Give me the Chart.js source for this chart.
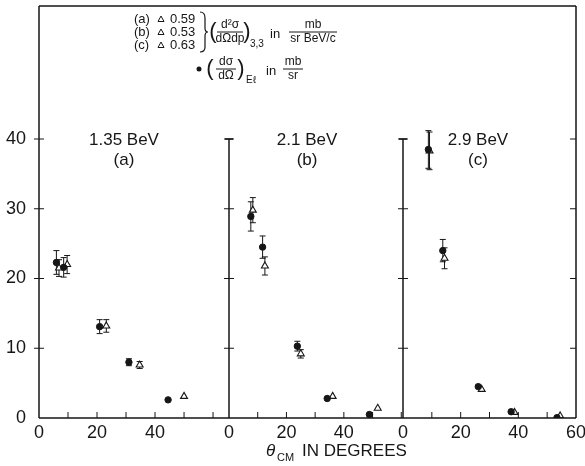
<!DOCTYPE html>
<html lang="en">
<head>
<meta charset="utf-8">
<script src="https://cdn.jsdelivr.net/npm/chart.js@4.4.0/dist/chart.umd.min.js"></script>
<style>
  body { margin: 0; background: #fff; }
  #wrap { position: relative; width: 585px; height: 466px; }
  #wrap canvas { position: absolute; left: 0; top: 0; }
</style>
</head>
<body>
<div id="wrap">
  <canvas id="pa" width="585" height="466"></canvas>
  <canvas id="pb" width="585" height="466"></canvas>
  <canvas id="pc" width="585" height="466"></canvas>
</div>
<script>
// cross sections vs. c.m. angle, three beam energies
// El = elastic dsigma/dOmega (dots), 33 = (3,3) resonance d2sigma/dOmega dp (triangles)
var angA_El = [6.0, 8.5, 20.9, 31.0, 44.5];
var valA_El = [22.3, 21.6, 13.1, 8.0, 2.6];
var errA_El = [1.7, 1.4, 1.0, 0.5, 0.3];
var angA_33 = [6.9, 9.7, 23.2, 34.7, 50.0];
var valA_33 = [21.5, 22.0, 13.2, 7.6, 3.1];
var errA_33 = [1.2, 1.3, 0.9, 0.5, 0.3];

var angB_El = [7.6, 11.7, 23.8, 34.2, 48.9];
var valB_El = [28.9, 24.5, 10.3, 2.8, 0.5];
var errB_El = [2.1, 1.6, 0.7, 0.3, 0.1];
var angB_33 = [8.3, 12.5, 25.0, 36.1, 51.8];
var valB_33 = [29.8, 21.8, 9.2, 3.1, 1.4];
var errB_33 = [1.8, 1.3, 0.6, 0.2, 0.1];

var angC_El = [8.8, 13.8, 26.1, 37.5, 53.4];
var valC_El = [38.5, 24.0, 4.5, 0.9, 0.05];
var errC_El = [2.7, 1.6, 0.2, 0.1, 0];
var angC_33 = [9.2, 14.4, 27.3, 38.7, 54.5];
var valC_33 = [38.3, 22.9, 4.1, 0.8, 0.3];
var errC_33 = [2.7, 1.5, 0.2, 0.1, 0];

var energies = ['1.35 BeV', '2.1 BeV', '2.9 BeV'];
var tags = ['(a)', '(b)', '(c)'];
var ratios = ['0.59', '0.53', '0.63'];
var yTicks = [0, 10, 20, 30, 40];
var xTicksA = [0, 20, 40];
var xTicksB = [0, 20, 40];
var xTicksC = [0, 20, 40, 60];

var INK = '#161616';
var FONT = '"Liberation Sans", "DejaVu Sans", sans-serif';

function makeSets(angEl, valEl, errEl, ang33, val33, err33) {
  return [{
    label: 'El',
    data: angEl.map(function (a, i) { return { x: a, y: valEl[i] }; }),
    err: errEl,
    pointStyle: 'circle', pointRadius: 3.2,
    backgroundColor: INK, borderColor: INK, borderWidth: 1
  }, {
    label: '3,3',
    data: ang33.map(function (a, i) { return { x: a, y: val33[i] }; }),
    err: err33,
    pointStyle: 'triangle', pointRadius: 4,
    backgroundColor: '#fff', borderColor: INK, borderWidth: 1.1
  }];
}

// error bars, frame lines, tick marks and the panel captions
var panelDeco = {
  id: 'panelDeco',
  beforeDatasetsDraw: function (chart) {
    var ctx = chart.ctx, xs = chart.scales.x, ys = chart.scales.y;
    ctx.save();
    ctx.strokeStyle = INK;
    ctx.lineWidth = 1;
    chart.data.datasets.forEach(function (ds) {
      ds.data.forEach(function (p, i) {
        var e = ds.err[i];
        if (!e) return;
        var px = xs.getPixelForValue(p.x);
        var top = ys.getPixelForValue(p.y + e), bot = ys.getPixelForValue(p.y - e);
        ctx.beginPath();
        ctx.moveTo(px, top); ctx.lineTo(px, bot);
        if (bot - top > 5) {
          ctx.moveTo(px - 3, top); ctx.lineTo(px + 3, top);
          ctx.moveTo(px - 3, bot); ctx.lineTo(px + 3, bot);
        }
        ctx.stroke();
      });
    });
    ctx.restore();
  },
  afterDraw: function (chart, args, o) {
    var ctx = chart.ctx, xs = chart.scales.x, ys = chart.scales.y, a = chart.chartArea;
    ctx.save();
    ctx.strokeStyle = INK;
    ctx.lineWidth = 1.5;
    ctx.beginPath();
    // top and bottom lines
    ctx.moveTo(a.left, a.top); ctx.lineTo(a.right, a.top);
    ctx.moveTo(a.left, a.bottom); ctx.lineTo(a.right, a.bottom);
    if (o.left === 'axis') {
      ctx.moveTo(a.left, a.top); ctx.lineTo(a.left, a.bottom);
    } else {
      var y40 = ys.getPixelForValue(40);
      ctx.moveTo(a.left, a.bottom); ctx.lineTo(a.left, y40);
      ctx.moveTo(a.left - 4, y40); ctx.lineTo(a.left + 4, y40);
    }
    if (o.right) {
      ctx.moveTo(a.right, a.top); ctx.lineTo(a.right, a.bottom);
    }
    ctx.stroke();

    ctx.lineWidth = 1;
    ctx.beginPath();
    yTicks.forEach(function (v) {
      if (v === 0) return;
      var py = ys.getPixelForValue(v);
      ctx.moveTo(a.left - 5, py); ctx.lineTo(a.left + 5, py);
      if (o.right) { ctx.moveTo(a.right - 6, py); ctx.lineTo(a.right, py); }
    });
    xs.ticks.forEach(function (t) {
      if (t.value <= 0 || t.value >= xs.max) return;
      var px = xs.getPixelForValue(t.value);
      ctx.moveTo(px, a.bottom); ctx.lineTo(px, a.bottom - 6);
    });
    ctx.stroke();

    // energy and panel tag
    ctx.fillStyle = INK;
    ctx.textAlign = 'center';
    ctx.textBaseline = 'middle';
    ctx.font = '17px ' + FONT;
    var cx = xs.getPixelForValue(o.captionAt);
    var cy = ys.getPixelForValue(40);
    ctx.fillText(o.energy, cx, cy + 1);
    ctx.fillText(o.tag, cx, cy + 21);

    if (o.axisTitle) drawAxisTitle(ctx);
    if (o.legend) drawLegend(ctx);
    ctx.restore();
  }
};

function drawAxisTitle(ctx) {
  var base = 456;
  ctx.textAlign = 'left';
  ctx.textBaseline = 'alphabetic';
  ctx.font = 'italic 17px ' + FONT;
  ctx.fillText('\u03B8', 266, base);
  ctx.font = '11px ' + FONT;
  ctx.fillText('CM', 277, base + 5);
  ctx.font = '17px ' + FONT;
  ctx.fillText('IN DEGREES', 302, base);
}

function frac(ctx, top, bottom, cx, cy, halfW, size) {
  ctx.font = size + 'px ' + FONT;
  ctx.textAlign = 'center';
  ctx.textBaseline = 'middle';
  ctx.fillText(top, cx, cy - 7);
  ctx.fillText(bottom, cx, cy + 7);
  ctx.beginPath();
  ctx.moveTo(cx - halfW, cy); ctx.lineTo(cx + halfW, cy);
  ctx.stroke();
}

function drawLegend(ctx) {
  ctx.fillStyle = INK;
  ctx.strokeStyle = INK;
  ctx.lineWidth = 1;
  var rows = [19, 32, 45];
  ctx.font = '13px ' + FONT;
  ctx.textBaseline = 'middle';
  rows.forEach(function (ry, i) {
    ctx.textAlign = 'left';
    ctx.fillText(tags[i], 134, ry);
    ctx.beginPath();
    ctx.moveTo(161, ry - 3); ctx.lineTo(164, ry + 2.5); ctx.lineTo(158, ry + 2.5); ctx.closePath();
    ctx.stroke();
    ctx.fillText(ratios[i], 170, ry);
  });
  // brace joining the three rows
  ctx.lineWidth = 1.2;
  ctx.beginPath();
  ctx.moveTo(200, 12);
  ctx.quadraticCurveTo(205, 12, 205, 18);
  ctx.lineTo(205, 28);
  ctx.quadraticCurveTo(205, 32, 208, 32);
  ctx.quadraticCurveTo(205, 32, 205, 36);
  ctx.lineTo(205, 47);
  ctx.quadraticCurveTo(205, 52, 200, 52);
  ctx.stroke();
  ctx.lineWidth = 1;

  // (d2sigma / dOmega dp)_3,3 in mb / sr BeV/c
  ctx.font = '22px ' + FONT;
  ctx.textAlign = 'center';
  ctx.fillText('(', 213, 32);
  frac(ctx, 'd\u00B2\u03C3', 'd\u03A9dp', 230, 32, 13, 12);
  ctx.font = '22px ' + FONT;
  ctx.fillText(')', 247, 32);
  ctx.font = '10px ' + FONT;
  ctx.textAlign = 'left';
  ctx.fillText('3,3', 250, 44);
  ctx.font = '13px ' + FONT;
  ctx.fillText('in', 270, 34);
  frac(ctx, 'mb', 'sr BeV/c', 313, 32, 24, 12);

  // (dsigma / dOmega)_El in mb / sr
  var dy = 69;
  ctx.beginPath();
  ctx.arc(199, dy, 2.5, 0, Math.PI * 2);
  ctx.fill();
  ctx.font = '22px ' + FONT;
  ctx.textAlign = 'center';
  ctx.fillText('(', 210, dy);
  frac(ctx, 'd\u03C3', 'd\u03A9', 226, dy, 10, 12);
  ctx.font = '22px ' + FONT;
  ctx.fillText(')', 241, dy);
  ctx.font = '10px ' + FONT;
  ctx.textAlign = 'left';
  ctx.fillText('E\u2113', 246, dy + 11);
  ctx.font = '13px ' + FONT;
  ctx.fillText('in', 266, dy + 2);
  frac(ctx, 'mb', 'sr', 293, dy, 10, 12);
}

function makePanel(id, sets, xMax, xLabels, pad, deco, showY) {
  return new Chart(document.getElementById(id), {
    type: 'scatter',
    data: { datasets: sets },
    plugins: [panelDeco],
    options: {
      responsive: false,
      animation: false,
      devicePixelRatio: 1,
      layout: { padding: pad },
      plugins: { legend: { display: false }, tooltip: { enabled: false }, panelDeco: deco },
      scales: {
        x: {
          type: 'linear', min: 0, max: xMax,
          grid: { display: false, drawTicks: false }, border: { display: false },
          ticks: {
            stepSize: 10, includeBounds: false, autoSkip: false, maxRotation: 0,
            padding: 4, color: INK, font: { family: FONT, size: 18 },
            callback: function (v) { return xLabels.indexOf(v) >= 0 ? String(v) : ''; }
          },
          afterFit: function (s) { s.height = 48; s.paddingLeft = 0; s.paddingRight = 0; }
        },
        y: {
          type: 'linear', min: 0, max: 59.07, display: showY,
          grid: { display: false, drawTicks: false }, border: { display: false },
          ticks: {
            stepSize: 10, includeBounds: false, padding: 13, color: INK,
            font: { family: FONT, size: 18 },
            callback: function (v) { return yTicks.indexOf(v) >= 0 ? String(v) : ''; }
          },
          afterFit: function (s) {
            s.width = showY ? 39 : 0;
            s.paddingTop = 0; s.paddingBottom = 0;
          }
        }
      }
    }
  });
}

makePanel('pa', makeSets(angA_El, valA_El, errA_El, angA_33, valA_33, errA_33), 65.5, xTicksA,
  { left: 0, right: 356, top: 6, bottom: 0 },
  { left: 'axis', right: false, energy: energies[0], tag: tags[0], captionAt: 29.3, legend: true }, true);
makePanel('pb', makeSets(angB_El, valB_El, errB_El, angB_33, valB_33, errB_33), 60.6, xTicksB,
  { left: 229, right: 182, top: 6, bottom: 0 },
  { left: 'divider', right: false, energy: energies[1], tag: tags[1], captionAt: 27.2, axisTitle: true }, false);
makePanel('pc', makeSets(angC_El, valC_El, errC_El, angC_33, valC_33, errC_33), 60, xTicksC,
  { left: 403, right: 9, top: 6, bottom: 0 },
  { left: 'divider', right: true, energy: energies[2], tag: tags[2], captionAt: 26 }, false);
</script>
</body>
</html>
